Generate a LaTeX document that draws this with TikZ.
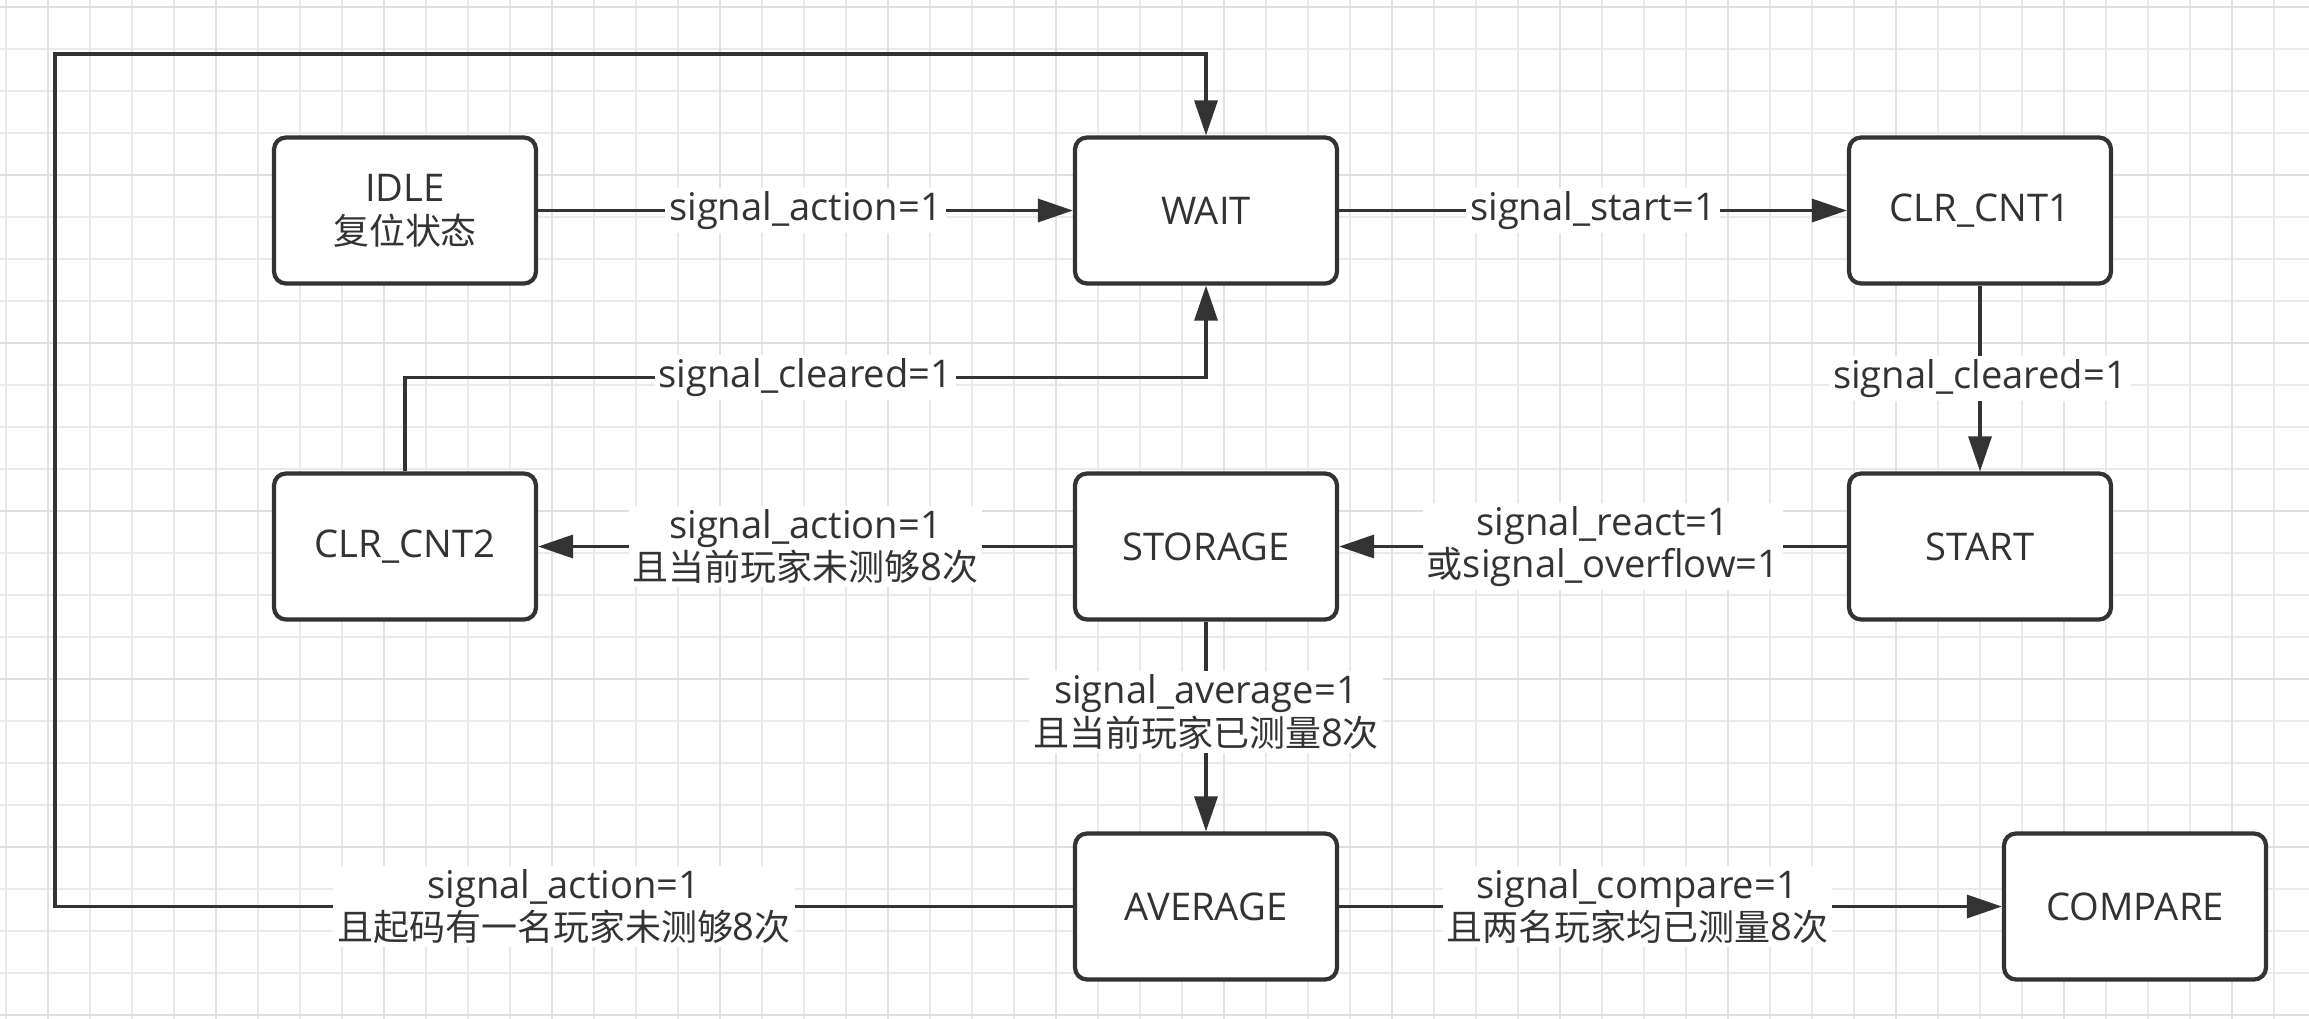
\documentclass[tikz,border=0pt]{standalone}
\usepackage{fontspec}
\setmainfont{Open Sans}[Scale=1.06]
\newfontfamily\cjk{Noto Sans CJK SC}
\usetikzlibrary{positioning,arrows.meta}
\definecolor{ink}{HTML}{333333}
\definecolor{gridminor}{HTML}{EAEAEA}
\definecolor{gridmajor}{HTML}{E0E0E0}
\tikzset{main node/.style={rectangle,rounded corners=1.2mm,draw=ink,line width=1.2pt,fill=white,minimum width=2.62cm,minimum height=1.46cm,inner sep=0pt,align=center,text=ink} }
\tikzset{trans/.style={draw=ink,line width=0.95pt,-{Triangle[length=3.5mm,width=2.3mm]}},
  cond/.style={fill=white,inner xsep=0.04cm,inner ysep=1pt,align=center,text=ink} }

\begin{document}
\begin{tikzpicture}[font=\fontsize{10.24}{12.15}\selectfont]
\fill[white] (0,0) rectangle (23.09,-10.19);
\useasboundingbox (0,0) rectangle (23.09,-10.19);
% grid
\foreach \i in {0,...,54} \draw[gridminor,line width=0.45pt] ({0.06+0.42*\i},0) -- ++(0,-10.19);
\foreach \i in {0,...,24} \draw[gridminor,line width=0.45pt] (0,{-0.07-0.42*\i}) -- ++(23.09,0);
\foreach \i in {0,...,13} \draw[gridmajor,line width=0.75pt] ({0.48+1.68*\i},0) -- ++(0,-10.19);
\foreach \i in {0,...,6} \draw[gridmajor,line width=0.75pt] (0,{-0.07-1.68*\i}) -- ++(23.09,0);

\begin{scope}[on grid]
  \node[main node] (idle) at (4.05,-2.105) {IDLE\\{\cjk 复位状态}};
  \node[main node] (wait) [right = 8.01cm of idle] {WAIT};
  \node[main node] (clr1) [right = 7.74cm of wait] {CLR\_CNT1};
  \node[main node] (clr2) [below = 3.36cm of idle] {CLR\_CNT2};
  \node[main node] (store) [below = 3.36cm of wait] {STORAGE};
  \node[main node] (start) [below = 3.36cm of clr1] {START};
  \node[main node] (avg) [below = 3.6cm of store] {AVERAGE};
  \node[main node] (cmp) [right = 9.29cm of avg] {COMPARE};
  \coordinate (back) at (0.55,-0.54);

  \draw[trans] (idle) -- node[cond] {signal\_action=1} (wait);
  \draw[trans] (wait) -- node[cond] {signal\_start=1} (clr1);
  \draw[trans] (clr1) -- node[cond] {signal\_cleared=1} (start);
  \draw[trans] (start) -- node[cond,pos=0.48] {signal\_react=1\\{\cjk 或}signal\_overflow=1} (store);
  \draw[trans] (store) -- node[cond] {signal\_action=1\\{\cjk 且当前玩家未测够}8{\cjk 次}} (clr2);
  \draw[trans] (clr2.north) -- ++(0,0.94) -| node[cond,pos=0.25] {signal\_cleared=1} (wait.south);
  \draw[trans] (store) -- node[cond,pos=0.43] {signal\_average=1\\{\cjk 且当前玩家已测量}8{\cjk 次}} (avg);
  \draw[trans] (avg) -- node[cond,pos=0.45] {signal\_compare=1\\{\cjk 且两名玩家均已测量}8{\cjk 次}} (cmp);
  \draw[trans] (avg.west) -- node[cond] {signal\_action=1\\{\cjk 且起码有一名玩家未测够}8{\cjk 次}} (avg.west -| back) -- (back) -| (wait.north);
\end{scope}
\end{tikzpicture}
\end{document}
